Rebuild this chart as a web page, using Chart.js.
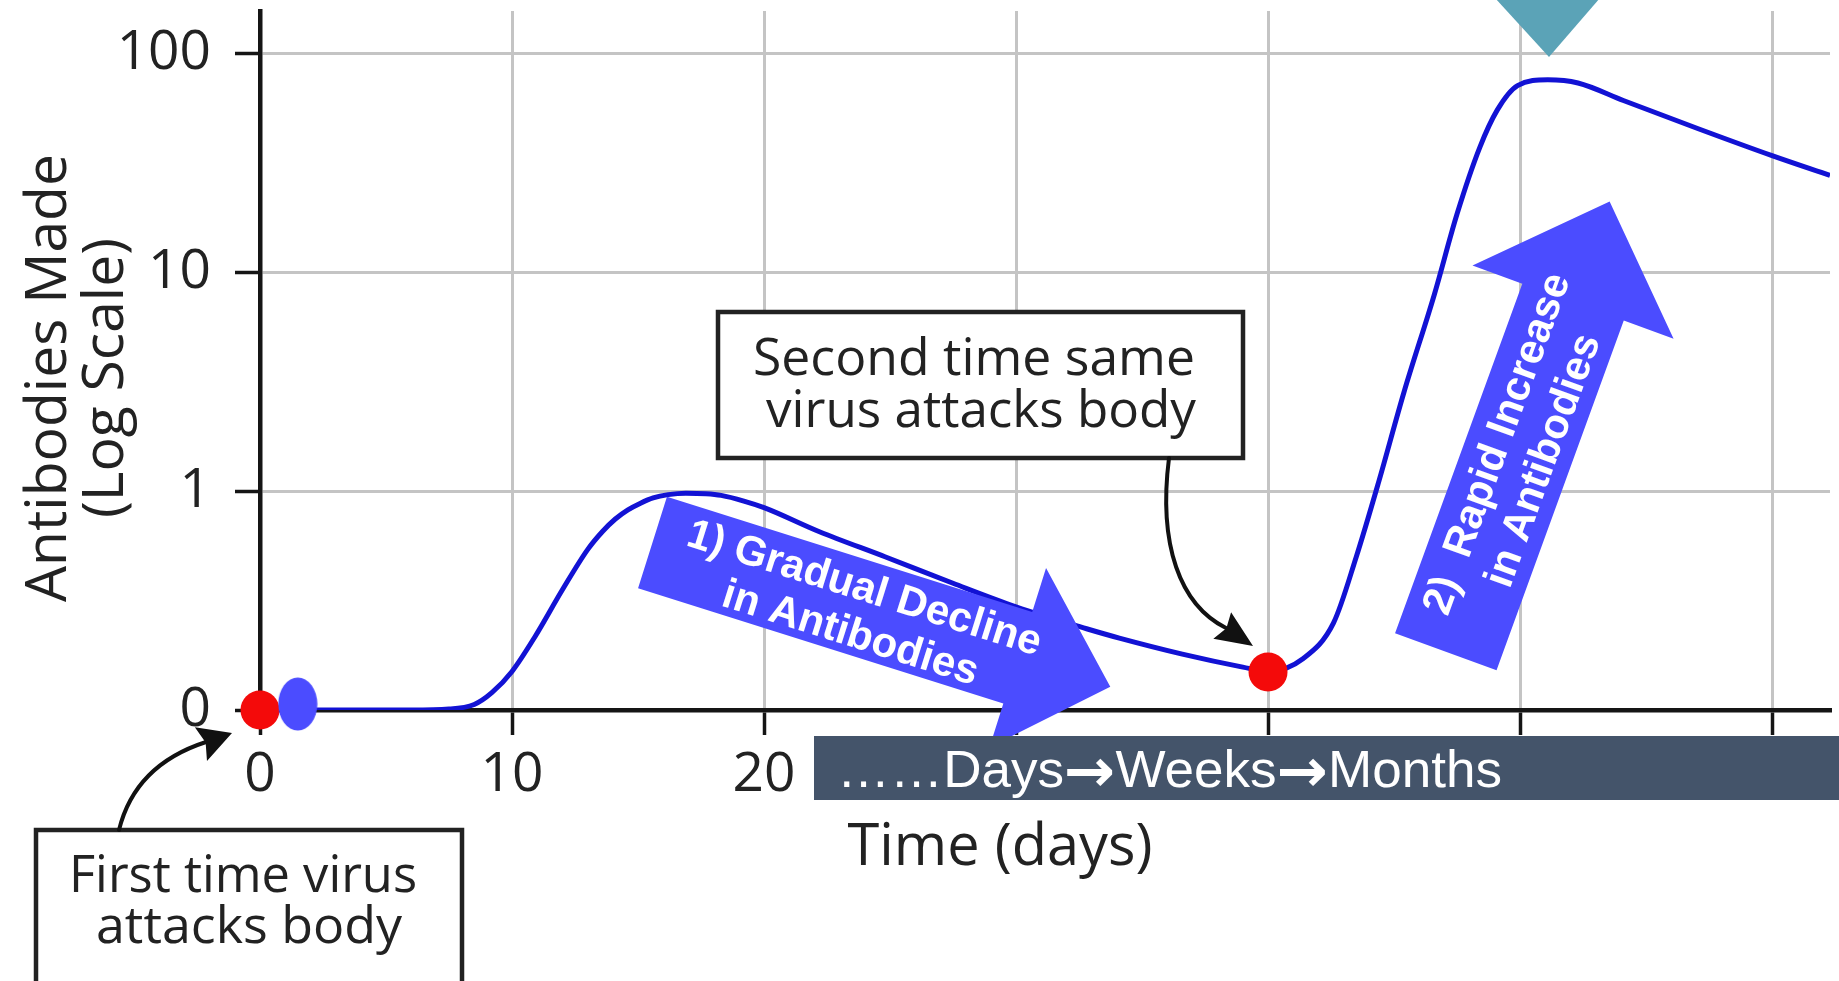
<!DOCTYPE html>
<html>
<head>
<meta charset="utf-8">
<title>Antibody response</title>
<script src="https://cdn.jsdelivr.net/npm/chart.js@4.4.1/dist/chart.umd.min.js"></script>
<style>
  html, body { margin: 0; padding: 0; background: #ffffff; }
  #wrap { width: 1839px; height: 981px; position: relative; overflow: hidden; }
  canvas { display: block; }
</style>
</head>
<body>
<div id="wrap"><canvas id="chart" width="1839" height="981"></canvas></div>
<script>
// Antibody level over time after a first and a second infection (log scale).
const days = [1.5, 4, 6, 7.5, 8.5, 9.2, 10, 10.9, 12, 13, 13.6, 14.1, 14.6, 15.1, 15.6, 16.2, 16.9, 17.7,
              18.3, 19.2, 20, 22.2, 24.8, 27.5, 30, 32.8, 34.1, 36.6, 39, 40, 41.4, 42.6, 43.5, 44.4, 45.4,
              46.6, 47.5, 48.4, 49.1, 49.9, 51.1, 52.3, 54.1, 57.1, 60, 62.3];
const antibodies = [0.1, 0.1, 0.1, 0.101, 0.106, 0.12, 0.15, 0.215, 0.354, 0.54, 0.655, 0.745, 0.82, 0.88, 0.93, 0.963, 0.978, 0.972,
                    0.955, 0.9, 0.84, 0.652, 0.501, 0.379, 0.296, 0.235, 0.213, 0.18, 0.157, 0.15, 0.172, 0.25, 0.5, 1.11, 2.84,
                    7.9, 18.4, 37, 55, 71, 75.5, 73, 60.7, 45, 34, 27.6];

// Moments the virus attacks (red markers) and the start of the response (blue marker)
const exposureDays = [0, 40];
const exposureLevels = [0.1, 0.149];
const responseStartDay = [1.5];
const responseStartLevel = [0.1065];

const xTickValues = [0, 10, 20, 30, 40, 50, 60];
const xTickLabels = ['0', '10', '20', '30', '40', '50', '60'];
const yTickValues = [0.1, 1, 10, 100];
const yTickLabels = ['0', '1', '10', '100'];

const yAxisTitle = ['Antibodies Made', '(Log Scale)'];
const xAxisTitle = 'Time (days)';
const firstNote = ['First time virus', 'attacks body'];
const secondNote = ['Second time same', 'virus attacks body'];
const declineNote = ['1) Gradual Decline', 'in Antibodies'];
const riseNote = ['2)  Rapid Increase', 'in Antibodies'];
const bannerWords = ['\u2026\u2026Days', 'Weeks', 'Months'];
const bannerArrow = '\u2192';

const HUMANIST = '"Open Sans", "Noto Sans", sans-serif';
const ARIAL = '"Liberation Sans", Arial, sans-serif';

// Oval marker used as a point style for the start of the response
function ovalMarker() {
  const c = document.createElement('canvas');
  c.width = 40; c.height = 54;
  const g = c.getContext('2d');
  g.fillStyle = '#4b4cff';
  g.beginPath();
  g.ellipse(20, 27, 19.5, 26.5, 0, 0, Math.PI * 2);
  g.fill();
  return c;
}

// Text squeezed or stretched horizontally to a given width
function fitText(ctx, str, x, y, width) {
  const w = ctx.measureText(str).width;
  ctx.save();
  ctx.translate(x, y);
  ctx.scale(width / w, 1);
  ctx.textAlign = 'center';
  ctx.fillText(str, 0, 0);
  ctx.restore();
}

function blockArrow(ctx, a) {
  ctx.save();
  ctx.translate(a.x, a.y);
  ctx.rotate(a.angle * Math.PI / 180);
  ctx.beginPath();
  ctx.moveTo(0, -a.body);
  ctx.lineTo(a.neck, -a.body);
  ctx.lineTo(a.neck, -a.head);
  ctx.lineTo(a.length, 0);
  ctx.lineTo(a.neck, a.head);
  ctx.lineTo(a.neck, a.body);
  ctx.lineTo(0, a.body);
  ctx.closePath();
  ctx.fillStyle = '#4b4cff';
  ctx.fill();
  ctx.fillStyle = '#ffffff';
  ctx.font = 'bold 42px ' + ARIAL;
  ctx.textAlign = 'center';
  ctx.textBaseline = 'middle';
  a.lines.forEach((t, i) => ctx.fillText(t, a.textU, a.textV[i]));
  ctx.restore();
}

function arrowHead(ctx, tip, from, len, half, notch) {
  const dx = tip[0] - from[0], dy = tip[1] - from[1];
  const d = Math.hypot(dx, dy);
  const ux = dx / d, uy = dy / d, px = -uy, py = ux;
  const bx = tip[0] - ux * len, by = tip[1] - uy * len;
  ctx.beginPath();
  ctx.moveTo(tip[0], tip[1]);
  ctx.lineTo(bx + px * half, by + py * half);
  ctx.lineTo(tip[0] - ux * (len - notch), tip[1] - uy * (len - notch));
  ctx.lineTo(bx - px * half, by - py * half);
  ctx.closePath();
  ctx.fill();
}

function noteBox(ctx, box, lines) {
  ctx.save();
  ctx.fillStyle = '#ffffff';
  ctx.fillRect(box.x, box.y, box.w, box.h);
  ctx.lineWidth = 4.5;
  ctx.strokeStyle = '#222222';
  ctx.strokeRect(box.x, box.y, box.w, box.h);
  ctx.fillStyle = '#222222';
  ctx.font = '52px ' + HUMANIST;
  ctx.textBaseline = 'alphabetic';
  lines.forEach((t, i) => fitText(ctx, t, box.cx[i], box.base[i], box.tw[i]));
  ctx.restore();
}

// "……Days → Weeks → Months" strip: words in Arial, heavy arrows between them
function timeBanner(ctx) {
  ctx.save();
  ctx.fillStyle = '#44546a';
  ctx.fillRect(814, 736, 1030, 64);
  ctx.fillStyle = '#ffffff';
  ctx.textAlign = 'left';
  ctx.textBaseline = 'alphabetic';
  const wordFont = '52px ' + ARIAL;
  const arrowFont = 'bold 60px "DejaVu Sans", sans-serif';
  const parts = [];
  bannerWords.forEach((w, i) => {
    parts.push({ t: w, f: wordFont, y: 787 });
    if (i < bannerWords.length - 1) parts.push({ t: bannerArrow, f: arrowFont, y: 791 });
  });
  let total = 0;
  parts.forEach(p => { ctx.font = p.f; p.w = ctx.measureText(p.t).width; total += p.w; });
  const s = 665 / total;
  let x = 837;
  parts.forEach(p => {
    ctx.save();
    ctx.font = p.f;
    ctx.translate(x, p.y);
    ctx.scale(s, 1);
    ctx.fillText(p.t, 0, 0);
    ctx.restore();
    x += p.w * s;
  });
  ctx.restore();
}

const overlay = {
  id: 'overlay',
  afterDraw(chart) {
    const ctx = chart.ctx;
    ctx.save();

    // Axis titles
    ctx.fillStyle = '#222222';
    ctx.font = '57px ' + HUMANIST;
    ctx.textAlign = 'center';
    ctx.textBaseline = 'alphabetic';
    [66, 123].forEach((bx, i) => {
      ctx.save();
      ctx.translate(bx, 378);
      ctx.rotate(-Math.PI / 2);
      ctx.fillText(yAxisTitle[i], 0, 0);
      ctx.restore();
    });
    ctx.font = '58px ' + HUMANIST;
    fitText(ctx, xAxisTitle, 1000, 865, 305);

    // Block arrows with their captions
    blockArrow(ctx, { x: 652.5, y: 542.5, angle: 17.5, length: 480, body: 48, neck: 383, head: 94,
                      lines: declineNote, textU: 216, textV: [-19, 28] });
    blockArrow(ctx, { x: 1445.8, y: 651.7, angle: -70, length: 479, body: 54, neck: 372, head: 107,
                      lines: riseNote, textU: 213, textV: [-22, 27] });

    // Call-out boxes
    noteBox(ctx, { x: 36, y: 830, w: 426, h: 190, cx: [243, 249], base: [892, 943], tw: [348, 306] }, firstNote);
    noteBox(ctx, { x: 718, y: 312, w: 525, h: 146, cx: [974, 981], base: [375, 427], tw: [442, 430] }, secondNote);

    // Curved pointers from the boxes to the exposure markers
    ctx.strokeStyle = '#111111';
    ctx.fillStyle = '#111111';
    ctx.lineWidth = 4;
    ctx.lineCap = 'round';
    ctx.beginPath();
    ctx.moveTo(119, 830);
    ctx.quadraticCurveTo(135, 765, 206, 742);
    ctx.stroke();
    arrowHead(ctx, [232, 733], [204, 743], 33, 18, 5);

    ctx.beginPath();
    ctx.moveTo(1169, 458);
    ctx.bezierCurveTo(1158, 545, 1180, 605, 1226, 628);
    ctx.stroke();
    arrowHead(ctx, [1253, 646], [1223, 626], 37, 16, 5);

    timeBanner(ctx);

    // Marker at the top of the panel
    ctx.fillStyle = '#5ba3b7';
    ctx.beginPath();
    ctx.moveTo(1495, -2);
    ctx.lineTo(1600, -2);
    ctx.lineTo(1549, 57);
    ctx.closePath();
    ctx.fill();

    ctx.restore();
  }
};

function noPadding(s) {
  s.paddingLeft = 0; s.paddingRight = 0; s.paddingTop = 0; s.paddingBottom = 0;
}

function build() {
  const curve = days.map((d, i) => ({ x: d, y: antibodies[i] }));
  const exposures = exposureDays.map((d, i) => ({ x: d, y: exposureLevels[i] }));
  const start = responseStartDay.map((d, i) => ({ x: d, y: responseStartLevel[i] }));

  new Chart(document.getElementById('chart'), {
    type: 'line',
    data: {
      datasets: [
        { label: 'Antibodies', data: curve, borderColor: '#1212d4', borderWidth: 5,
          cubicInterpolationMode: 'monotone', pointRadius: 0, fill: false, order: 3 },
        { type: 'scatter', label: 'Virus attack', data: exposures, backgroundColor: '#f40a0a',
          borderWidth: 0, pointRadius: 19.5, clip: false, order: 2 },
        { type: 'scatter', label: 'Response start', data: start, pointStyle: ovalMarker(),
          pointRadius: 20, clip: false, order: 1 }
      ]
    },
    options: {
      responsive: false,
      animation: false,
      devicePixelRatio: 1,
      layout: { autoPadding: false, padding: { top: 11, right: 9, left: 0, bottom: 0 } },
      plugins: { legend: { display: false }, tooltip: { enabled: false }, title: { display: false } },
      events: [],
      scales: {
        x: {
          type: 'linear', min: 0, max: 62.3,
          afterFit: s => { s.height = 271; noPadding(s); },
          afterBuildTicks: s => { s.ticks = xTickValues.map(v => ({ value: v })); },
          ticks: {
            callback: (v, i) => xTickLabels[i],
            font: { family: HUMANIST, size: 55 }, color: '#222222', padding: 7, maxRotation: 0
          },
          grid: { color: '#c4c4c4', lineWidth: 3, tickLength: 25, tickColor: '#151515', tickWidth: 3.5 },
          border: { color: '#151515', width: 4.5 }
        },
        y: {
          type: 'logarithmic', min: 0.1, max: 155.6,
          afterFit: s => { s.width = 260; noPadding(s); },
          afterBuildTicks: s => { s.ticks = yTickValues.map(v => ({ value: v })); },
          ticks: {
            callback: (v, i) => yTickLabels[i],
            font: { family: HUMANIST, size: 55 }, color: '#222222', padding: 24
          },
          grid: { color: '#c4c4c4', lineWidth: 3, tickLength: 25, tickColor: '#151515', tickWidth: 3.5 },
          border: { color: '#151515', width: 4.5 }
        }
      }
    },
    plugins: [overlay]
  });
}

const fontsReady = document.fonts && document.fonts.load
  ? Promise.all([
      document.fonts.load('55px "Open Sans"'),
      document.fonts.load('52px "Liberation Sans"'),
      document.fonts.load('bold 42px "Liberation Sans"'),
      document.fonts.load('bold 60px "DejaVu Sans"')
    ]).catch(() => null)
  : Promise.resolve();
fontsReady.then(build);
</script>
</body>
</html>
